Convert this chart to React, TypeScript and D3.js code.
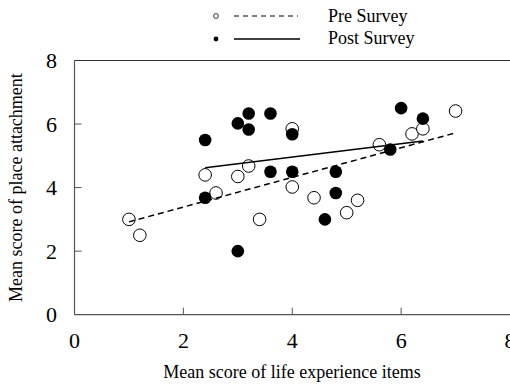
import React from 'react';
import * as d3 from 'd3';

// Pre survey (open circles)
const preX = [1.0, 1.2, 2.4, 2.6, 3.0, 3.2, 3.4, 4.0, 4.0, 4.4, 5.0, 5.2, 5.6, 6.2, 6.4, 7.0];
const preY = [3.0, 2.5, 4.4, 3.83, 4.35, 4.68, 3.0, 5.85, 4.02, 3.68, 3.21, 3.6, 5.35, 5.69, 5.85, 6.41];

// Post survey (filled circles)
const postX = [2.4, 2.4, 3.0, 3.0, 3.2, 3.2, 3.6, 3.6, 4.0, 4.0, 4.6, 4.8, 4.8, 5.8, 6.0, 6.4];
const postY = [5.5, 3.68, 6.02, 2.0, 6.33, 5.83, 6.33, 4.5, 5.68, 4.5, 3.0, 4.5, 3.83, 5.2, 6.5, 6.17];

const xTicks = [0, 2, 4, 6, 8];
const yTicks = [0, 2, 4, 6, 8];

const W = 510;
const H = 384;
const font = 'Liberation Serif, Times New Roman, serif';
const axisColor = '#555';

// least squares fit, drawn over the x range of the data
function fit(xs: number[], ys: number[]) {
  const mx = d3.mean(xs)!;
  const my = d3.mean(ys)!;
  let sxy = 0;
  let sxx = 0;
  xs.forEach((x, i) => {
    sxy += (x - mx) * (ys[i] - my);
    sxx += (x - mx) * (x - mx);
  });
  const b = sxy / sxx;
  const [x0, x1] = d3.extent(xs) as [number, number];
  return [
    [x0, my + b * (x0 - mx)],
    [x1, my + b * (x1 - mx)],
  ];
}

const App = () => {
  const x = d3.scaleLinear().domain([0, 8]).range([74.5, 510]);
  const y = d3.scaleLinear().domain([0, 8]).range([314.7, 60.5]);
  const line = d3
    .line<number[]>()
    .x((d) => x(d[0]))
    .y((d) => y(d[1]));

  const preFit = fit(preX, preY);
  const postFit = fit(postX, postY);
  const r = 6.3;

  return (
    <svg
      width={W}
      height={H}
      style={{ position: 'absolute', left: 0, top: 0, background: '#fff', fontFamily: font }}
    >
      {/* legend */}
      <circle cx={216} cy={16} r={2.4} fill="#fff" stroke="#000" strokeWidth={0.8} />
      <line x1={234} x2={298} y1={16} y2={16} stroke="#000" strokeWidth={1.2} strokeDasharray="5,4" />
      <text x={328} y={22} fontSize={18}>Pre Survey</text>
      <circle cx={216} cy={39} r={2.4} fill="#000" />
      <line x1={234} x2={300} y1={39} y2={39} stroke="#000" strokeWidth={1.5} />
      <text x={328} y={44} fontSize={18}>Post Survey</text>

      {/* frame */}
      <line x1={x(0)} x2={x(0)} y1={y(8)} y2={y(0)} stroke={axisColor} strokeWidth={1.2} />
      <line x1={x(0)} x2={W} y1={y(0)} y2={y(0)} stroke={axisColor} strokeWidth={1.2} />
      <line x1={x(0)} x2={W} y1={y(8)} y2={y(8)} stroke="#333" strokeWidth={1.2} />

      {yTicks.map((t) => (
        <g key={'y' + t}>
          {t > 0 && t < 8 && (
            <line x1={x(0)} x2={x(0) + 7} y1={y(t)} y2={y(t)} stroke={axisColor} strokeWidth={1} />
          )}
          <text x={57} y={y(t)} dy="0.34em" textAnchor="end" fontSize={22}>
            {t}
          </text>
        </g>
      ))}
      {xTicks.map((t) => (
        <g key={'x' + t}>
          {t > 0 && t < 8 && (
            <line x1={x(t)} x2={x(t)} y1={y(0)} y2={y(0) - 7} stroke={axisColor} strokeWidth={1} />
          )}
          <text x={x(t)} y={348} textAnchor="middle" fontSize={22}>
            {t}
          </text>
        </g>
      ))}

      <text x={292} y={378} textAnchor="middle" fontSize={18}>
        Mean score of life experience items
      </text>
      <text
        transform={`translate(22,${(y(0) + y(8)) / 2}) rotate(-90)`}
        textAnchor="middle"
        fontSize={18}
      >
        Mean score of place attachment
      </text>

      {/* points */}
      {preX.map((v, i) => (
        <circle key={'pre' + i} cx={x(v)} cy={y(preY[i])} r={r} fill="#fff" stroke="#000" strokeWidth={1} />
      ))}
      {postX.map((v, i) => (
        <circle key={'post' + i} cx={x(v)} cy={y(postY[i])} r={r} fill="#000" />
      ))}

      {/* fitted lines */}
      <path d={line(preFit) || ''} fill="none" stroke="#000" strokeWidth={1.5} strokeDasharray="6,4" />
      <path d={line(postFit) || ''} fill="none" stroke="#000" strokeWidth={1.5} />
    </svg>
  );
};

export default App;
